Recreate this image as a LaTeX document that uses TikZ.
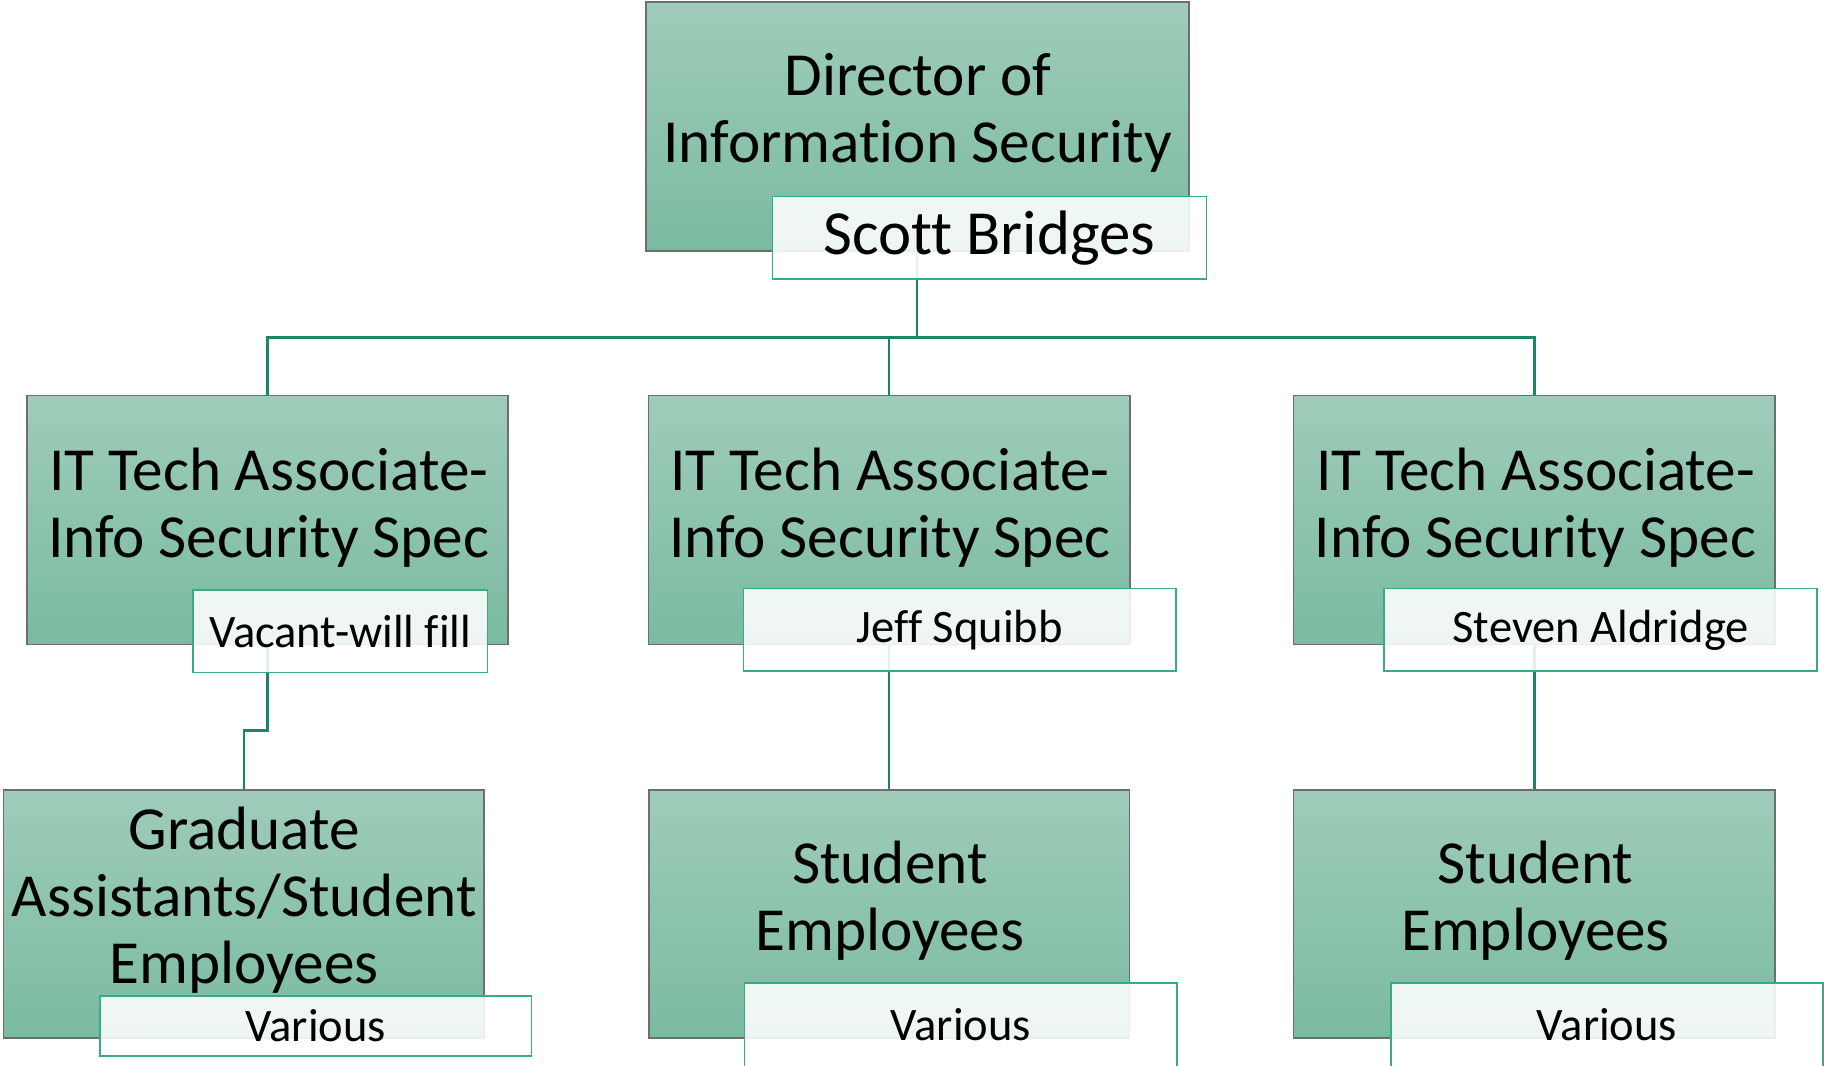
\documentclass[tikz,border=0pt]{standalone}
\usepackage{fontspec}
\setmainfont{Carlito}[RawFeature={-liga;-clig;-calt;-dlig}]
\definecolor{gtop}{HTML}{9FCCBA}
\definecolor{gbot}{HTML}{7ABBA0}
\definecolor{gedge}{HTML}{6E6E6E}
\definecolor{conn}{HTML}{1E8466}
\definecolor{nedge}{HTML}{3AAA85}
\tikzset{
  gbox/.style={rectangle, draw=gedge, line width=0.8pt, top color=gtop, bottom color=gbot, inner sep=0pt},
  namebox/.style={rectangle, draw=nedge, line width=0.7pt, fill=white, fill opacity=0.88, draw opacity=1, text opacity=1, inner sep=0pt},
  bigtext/.style={align=center, inner sep=0pt, font=\fontsize{26.3}{28.8}\selectfont},
  nametext/.style={inner sep=0pt, font=\fontsize{20}{24}\selectfont},
  link/.style={draw=conn, line width=1pt}
}
\begin{document}
\begin{tikzpicture}[x=0.5pt, y=-0.5pt]
\useasboundingbox (0,0) rectangle (1568,916);
% connectors (drawn first, boxes on top)
\coordinate (top) at (788.5,290);
\coordinate (j1) at (230,628);
\coordinate (j2) at (209.5,628);
\coordinate (dirB) at (788.5,216);
\coordinate (l2aB) at (230,554);
\coordinate (l2bB) at (764.5,554);
\coordinate (l2cB) at (1319,554);
\coordinate (l3aT) at (209.5,679);
\coordinate (l3bT) at (764.5,679);
\coordinate (l3cT) at (1319,679);
\coordinate (l2aT) at (230,340);
\coordinate (l2bT) at (764.5,340);
\coordinate (l2cT) at (1319,340);
\draw[link] (dirB) -- (top);
\draw[link] (l2aT) |- (top) -| (l2cT);
\draw[link] (top -| l2bT) -- (l2bT);
\draw[link] (l2aB) -- (j1) -- (j2) -- (l3aT);
\draw[link] (l2bB) -- (l3bT);
\draw[link] (l2cB) -- (l3cT);
% level 1
\node[gbox, minimum width=233.5pt, minimum height=107pt] (dir) at (788.5,109) {};
\node[bigtext] (dirX) at (789,97) {Director of\\Information Security};
\node[namebox, minimum width=186.5pt, minimum height=35.5pt, font=\fontsize{27}{30}\selectfont] (dirN) at (850.5,204.5) {Scott Bridges};
% level 2
\node[gbox, minimum width=207pt, minimum height=107pt] (l2a) at (230,447) {};
\node[gbox, minimum width=207pt, minimum height=107pt] (l2b) at (764.5,447) {};
\node[gbox, minimum width=207pt, minimum height=107pt] (l2c) at (1319,447) {};
\node[bigtext] (l2aX) at (231,436) {IT Tech Associate-\\Info Security Spec};
\node[bigtext] (l2bX) at (765,436) {IT Tech Associate-\\Info Security Spec};
\node[bigtext] (l2cX) at (1320,436) {IT Tech Associate-\\Info Security Spec};
\node[namebox, nametext, minimum width=126.5pt, minimum height=35.5pt] (l2aN) at (292.5,542.5) {Vacant-will fill};
\node[namebox, nametext, minimum width=186pt, minimum height=35.5pt] (l2bN) at (825,541.5) {Jeff Squibb};
\node[namebox, nametext, minimum width=186pt, minimum height=35.5pt] (l2cN) at (1376,541.5) {Steven Aldridge};
% level 3
\node[gbox, minimum width=206.5pt, minimum height=106.5pt] (l3a) at (209.5,785.5) {};
\node[gbox, minimum width=206.5pt, minimum height=106.5pt] (l3b) at (764.5,785.5) {};
\node[gbox, minimum width=207pt, minimum height=106.5pt] (l3c) at (1319,785.5) {};
\node[bigtext] (l3aX) at (210,774) {Graduate\\Assistants/Student\\Employees};
\node[bigtext] (l3bX) at (765,774) {Student\\Employees};
\node[bigtext] (l3cX) at (1320,774) {Student\\Employees};
\node[namebox, nametext, minimum width=185.5pt, minimum height=26pt] (l3aN) at (271.5,882) {Various};
\node[namebox, nametext, minimum width=186pt, minimum height=36pt] (l3bN) at (826,881) {Various};
\node[namebox, nametext, minimum width=185.5pt, minimum height=36pt] (l3cN) at (1381.5,881) {Various};
\end{tikzpicture}
\end{document}
